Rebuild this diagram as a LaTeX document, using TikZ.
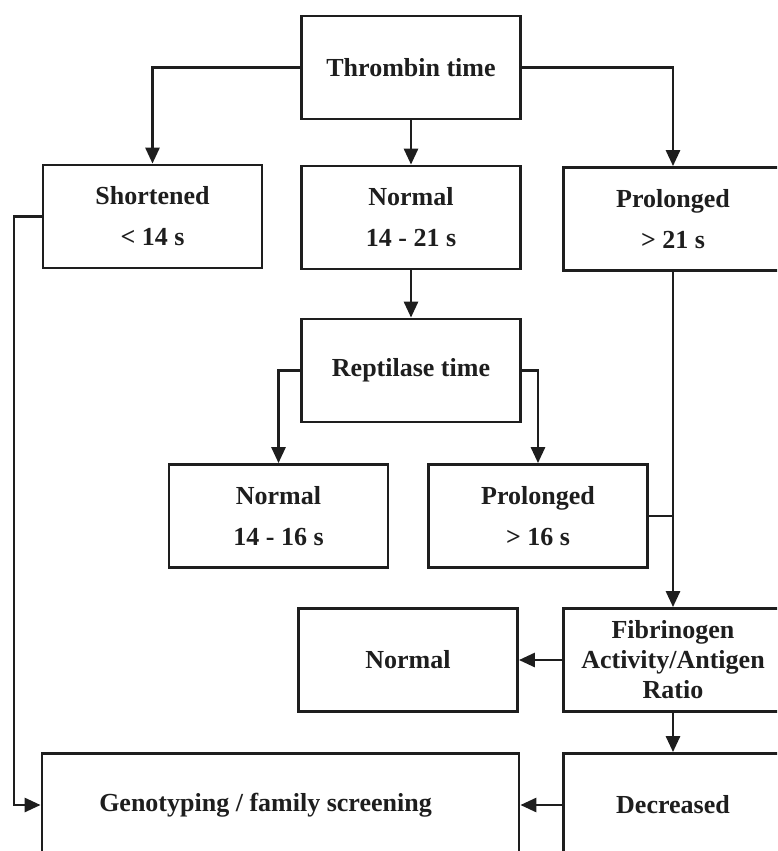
\documentclass[tikz,border=0pt]{standalone}
\usepackage{fontspec}
\setmainfont{Liberation Serif}
\usepackage{tikz}
\usetikzlibrary{arrows.meta,positioning,calc}
\usepackage{xcolor}
\definecolor{linecol}{RGB}{30,30,30}
\tikzset{
  % result / test box
  testbox/.style={rectangle, draw=linecol, line width=1.4pt, fill=white,
                  minimum width=#1, minimum height=51.5pt, inner sep=0pt, align=center,
                  text=linecol, font=\bfseries\fontsize{13}{20.5}\selectfont},
  testbox/.default={109.5pt},
  % flow arrow
  flowarrow/.style={-{Triangle[length=8pt,width=7pt]}, draw=linecol, line width=1.4pt},
  % plain joining line
  joinline/.style={draw=linecol, line width=1.4pt},
}
\begin{document}
\begin{tikzpicture}[x=0.5pt,y=-0.5pt]
  \useasboundingbox (0,0) rectangle (777,851);
  \clip (0,0) rectangle (777,851);

  % Step 1: thrombin time
  \node[testbox] (thrombin) at (411,67.5) {Thrombin time};
  \node[testbox] (short) at (152.5,216.5) {Shortened\\< 14 s};
  \node[testbox] (normal) at (411,217.5) {Normal\\14 - 21 s};
  \node[testbox] (prolong) at (673,219) {Prolonged\\> 21 s};

  \draw[flowarrow] (thrombin.west) -| (short.north);
  \draw[flowarrow] (thrombin.south) -- (normal.north);
  \draw[flowarrow] (thrombin.east) -| (prolong.north);

  % Step 2: reptilase time
  \node[testbox] (reptil) at (411,370.5) {Reptilase time};
  \node[testbox] (normaltwo) at (278.5,516) {Normal\\14 - 16 s};
  \node[testbox] (prolongtwo) at (538,516) {Prolonged\\> 16 s};

  \draw[flowarrow] (normal.south) -- (reptil.north);
  \draw[flowarrow] (reptil.west) -| (normaltwo.north);
  \draw[flowarrow] (reptil.east) -| (prolongtwo.north);

  % Step 3: fibrinogen ratio
  \node[testbox, font=\bfseries\fontsize{13}{15}\selectfont] (fibrin) at (673,660) {Fibrinogen\\Activity/Antigen\\Ratio};
  \node[testbox] (normalthree) at (408,660) {Normal};

  \draw[flowarrow] (prolong.south) -- (fibrin.north);
  \draw[joinline] (prolongtwo.east) -- (prolongtwo.east -| prolong.south);
  \draw[flowarrow] (fibrin.west) -- (normalthree.east);

  % Step 4: decreased -> genotyping
  \coordinate (lane) at (14,0);
  \node[testbox] (decr) at (673,805) {Decreased};
  \node[testbox=238.5pt] (geno) at (280.5,805) {\hspace*{-15pt}Genotyping / family screening};

  \draw[flowarrow] (fibrin.south) -- (decr.north);
  \draw[flowarrow] (decr.west) -- (geno.east);
  \draw[flowarrow] (short.west) -| (lane |- geno.west) -- (geno.west);
\end{tikzpicture}
\end{document}
